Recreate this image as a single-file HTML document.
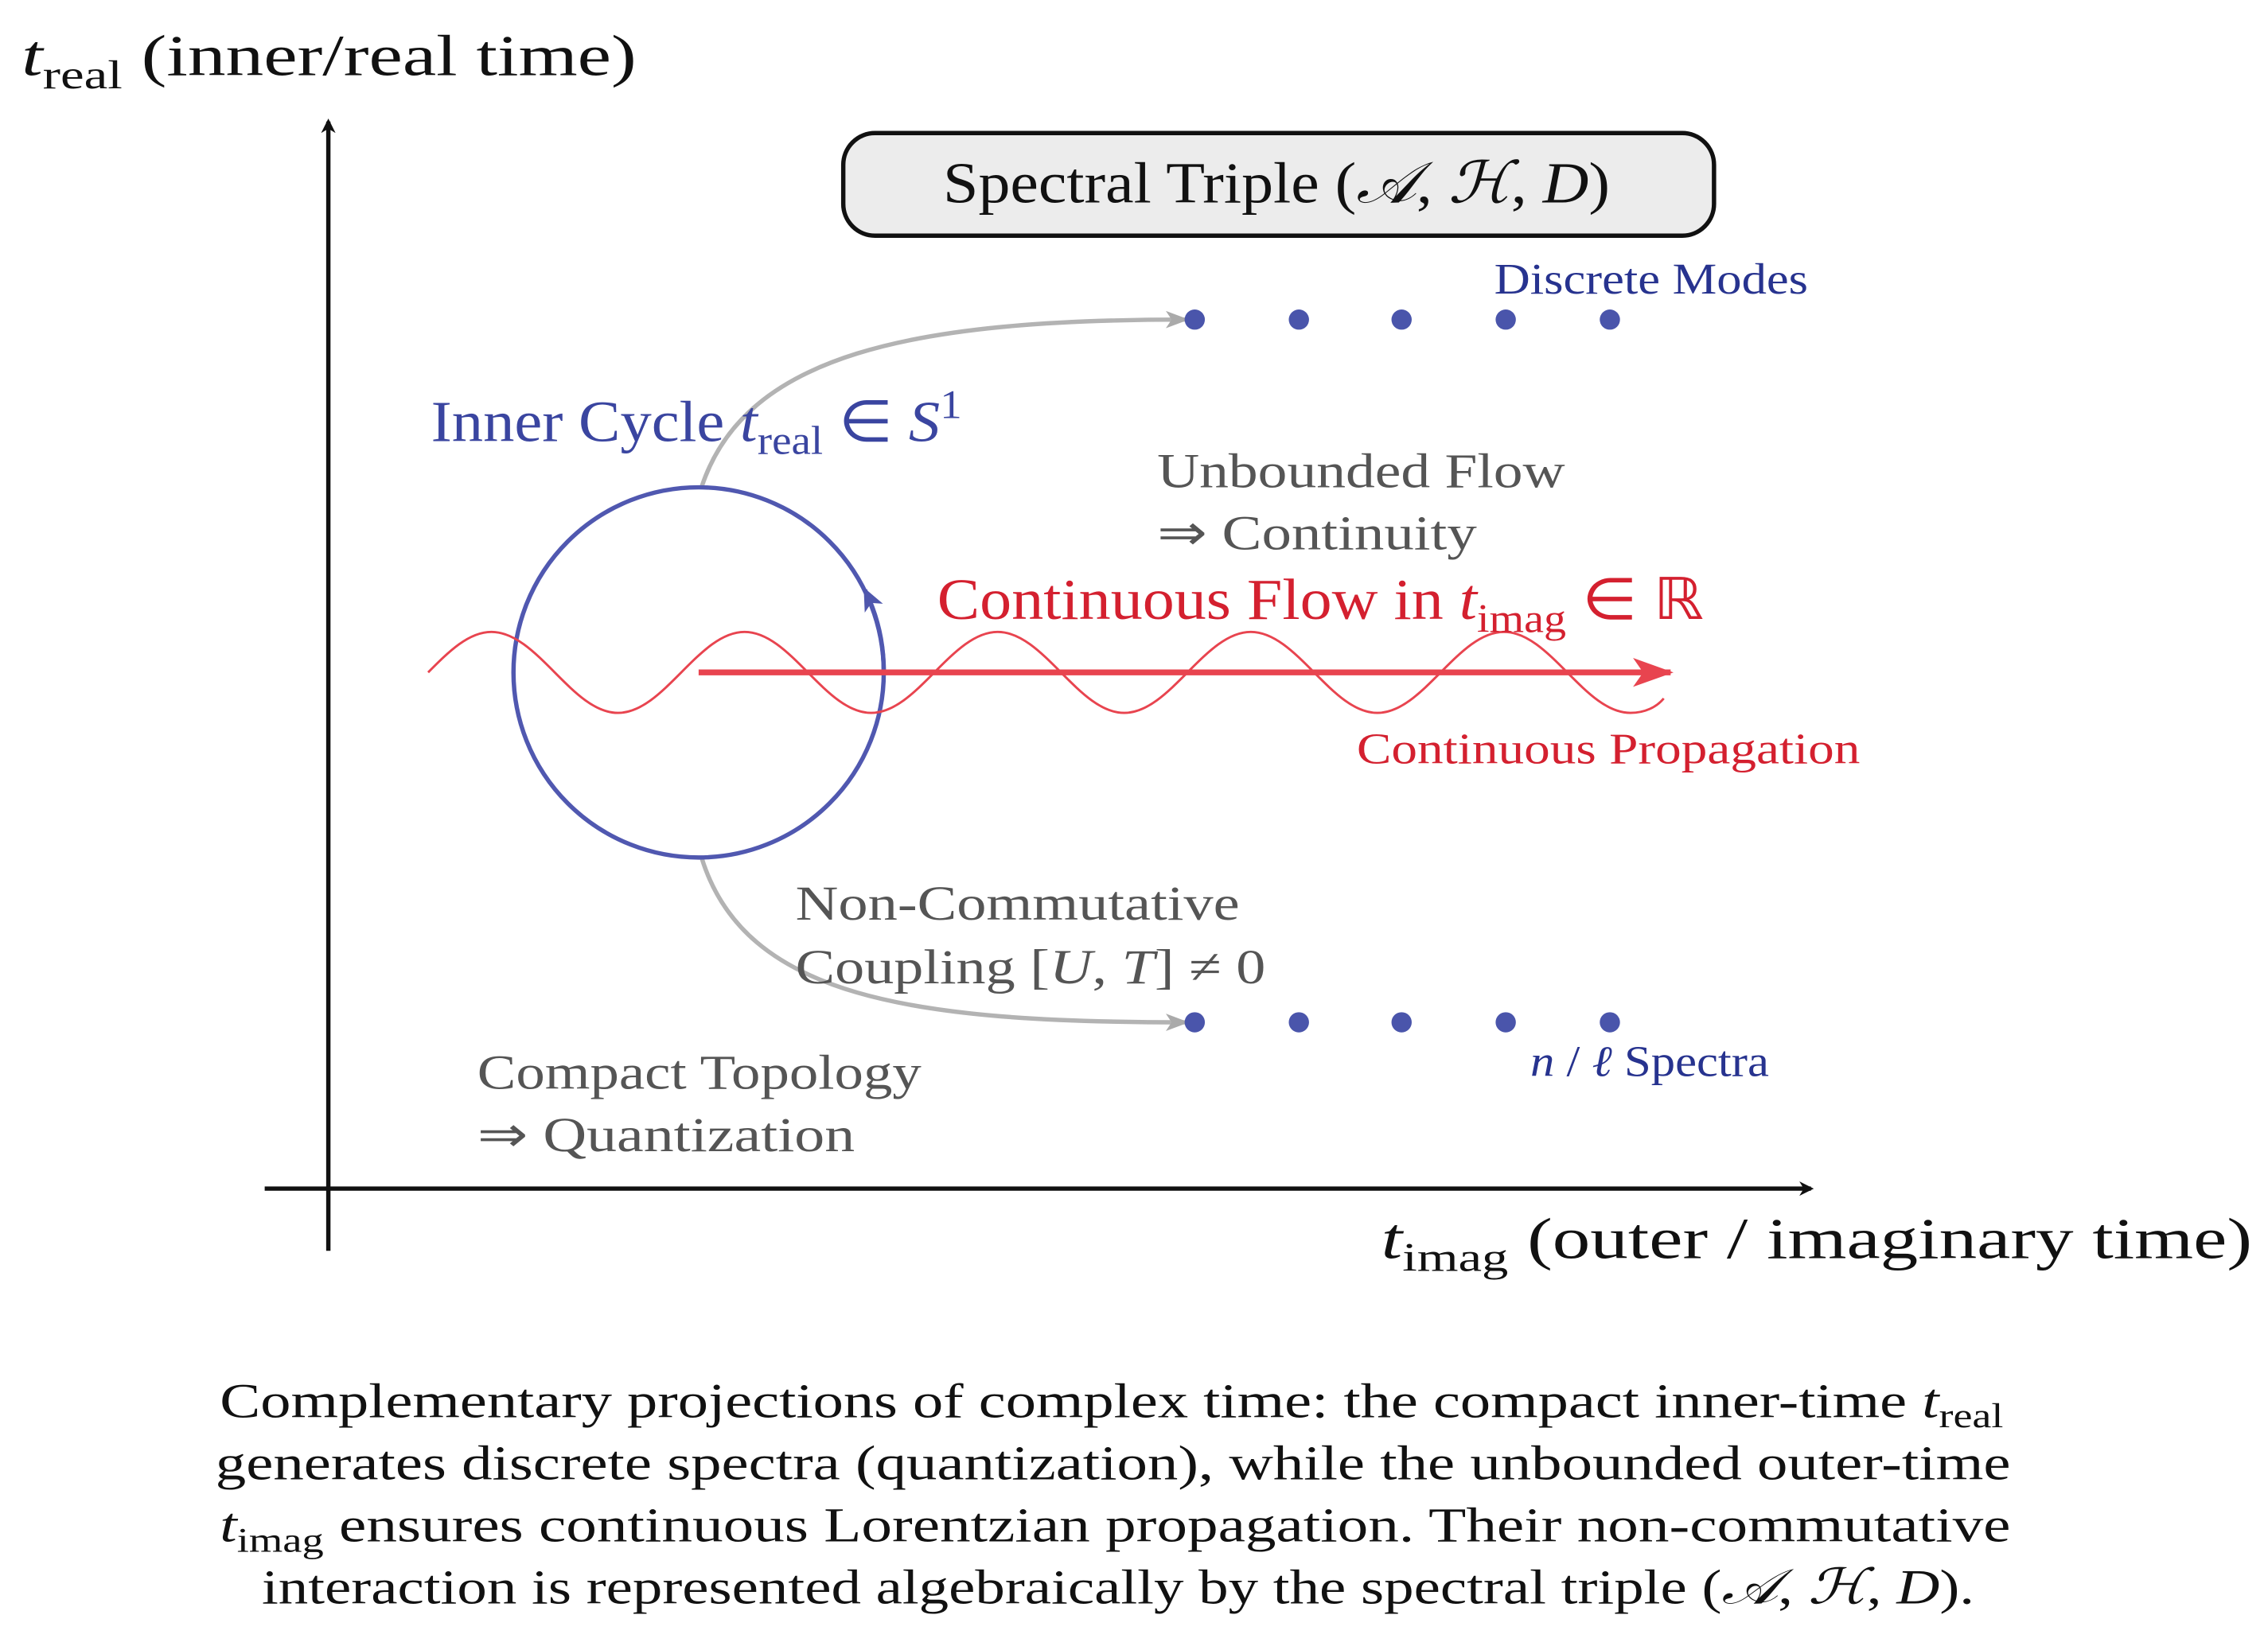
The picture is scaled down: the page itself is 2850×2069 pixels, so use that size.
<!DOCTYPE html>
<html><head><meta charset="utf-8"><style>
html,body{margin:0;padding:0;background:#fff;}
svg{display:block;}
text{font-family:"Liberation Serif",serif;}
</style></head><body>
<svg width="2850" height="2069" viewBox="0 0 1568 1138.3" xmlns="http://www.w3.org/2000/svg">
<defs>
<marker id="ak" markerWidth="10" markerHeight="10" refX="8" refY="5" orient="auto" markerUnits="userSpaceOnUse"><path d="M0,0 L10,5 L0,10 L3,5 Z" fill="#111"/></marker>
<marker id="ag" markerWidth="16" markerHeight="12" refX="14" refY="6" orient="auto" markerUnits="userSpaceOnUse"><path d="M0,0 L16,6 L0,12 L4,6 Z" fill="#aaa"/></marker>
<marker id="ar" markerWidth="28" markerHeight="20" refX="26" refY="10" orient="auto" markerUnits="userSpaceOnUse"><path d="M0,0 L28,10 L0,20 L7,10 Z" fill="#e8444f"/></marker>
<marker id="ab" markerWidth="16" markerHeight="14" refX="14" refY="7" orient="auto" markerUnits="userSpaceOnUse"><path d="M0,0 L16,7 L0,14 L4,7 Z" fill="#4f57ad"/></marker>
</defs>
<line x1="227" y1="865" x2="227" y2="84" stroke="#111" stroke-width="3" marker-end="url(#ak)"/>
<line x1="183" y1="822" x2="1252" y2="822" stroke="#111" stroke-width="3" marker-end="url(#ak)"/>
<text x="15" y="52" font-size="40" fill="#111" textLength="425" lengthAdjust="spacingAndGlyphs"><tspan font-style="italic">t</tspan><tspan font-size="28" dy="9">real</tspan><tspan dy="-9"> (inner/real time)</tspan></text>
<text x="955" y="870" font-size="40" fill="#111" textLength="602" lengthAdjust="spacingAndGlyphs"><tspan font-style="italic">t</tspan><tspan font-size="28" dy="9">imag</tspan><tspan dy="-9"> (outer / imaginary time)</tspan></text>
<rect x="583" y="92" width="602" height="71" rx="22" fill="#ececec" stroke="#111" stroke-width="3"/>
<text x="652" y="140" font-size="40" fill="#111" textLength="461" lengthAdjust="spacingAndGlyphs">Spectral Triple (<tspan font-style="italic">𝒜</tspan>, <tspan font-style="italic">ℋ</tspan>, <tspan font-style="italic">D</tspan>)</text>
<path d="M485,337 C515,245 630,221 820,221" fill="none" stroke="#b3b3b3" stroke-width="3" marker-end="url(#ag)"/>
<path d="M485,593 C515,690 630,707 820,707" fill="none" stroke="#b3b3b3" stroke-width="3" marker-end="url(#ag)"/>
<g fill="#4a55ab">
<circle cx="826" cy="221" r="7"/><circle cx="898" cy="221" r="7"/><circle cx="969" cy="221" r="7"/><circle cx="1041" cy="221" r="7"/><circle cx="1113" cy="221" r="7"/>
<circle cx="826" cy="707" r="7"/><circle cx="898" cy="707" r="7"/><circle cx="969" cy="707" r="7"/><circle cx="1041" cy="707" r="7"/><circle cx="1113" cy="707" r="7"/>
</g>
<text x="1033" y="203" font-size="30" fill="#27338f" textLength="217" lengthAdjust="spacingAndGlyphs">Discrete Modes</text>
<text x="1058" y="744" font-size="30" fill="#27338f" textLength="165" lengthAdjust="spacingAndGlyphs"><tspan font-style="italic">n</tspan> / <tspan font-style="italic">ℓ</tspan> Spectra</text>
<circle cx="483" cy="465" r="128" fill="none" stroke="#5058b0" stroke-width="3"/>
<path d="M611,465 A128,128 0 0 0 598,408" fill="none" stroke="#5058b0" stroke-width="3" marker-end="url(#ab)"/>
<path fill="none" stroke="#e8444f" stroke-width="1.6" d="M296,465
c14.27,-14.34 27.92,-28 43.75,-28 c15.83,0 29.48,13.66 43.75,28 c14.27,14.34 27.92,28 43.75,28 c15.83,0 29.48,-13.66 43.75,-28
c14.27,-14.34 27.92,-28 43.75,-28 c15.83,0 29.48,13.66 43.75,28 c14.27,14.34 27.92,28 43.75,28 c15.83,0 29.48,-13.66 43.75,-28
c14.27,-14.34 27.92,-28 43.75,-28 c15.83,0 29.48,13.66 43.75,28 c14.27,14.34 27.92,28 43.75,28 c15.83,0 29.48,-13.66 43.75,-28
c14.27,-14.34 27.92,-28 43.75,-28 c15.83,0 29.48,13.66 43.75,28 c14.27,14.34 27.92,28 43.75,28 c15.83,0 29.48,-13.66 43.75,-28
c14.27,-14.34 27.92,-28 43.75,-28 c15.83,0 29.48,13.66 43.75,28 c14.27,14.34 27.92,28 43.75,28 c10,0 18,-4 23,-10"/>
<line x1="483" y1="465" x2="1155" y2="465" stroke="#e8444f" stroke-width="4" marker-end="url(#ar)"/>
<text x="298" y="305" font-size="40" fill="#3a45a0" textLength="367" lengthAdjust="spacingAndGlyphs">Inner Cycle <tspan font-style="italic">t</tspan><tspan font-size="28" dy="9">real</tspan><tspan dy="-9"> ∈ </tspan><tspan font-style="italic">S</tspan><tspan font-size="28" dy="-16">1</tspan></text>
<text x="800" y="337" font-size="34" fill="#555" textLength="282" lengthAdjust="spacingAndGlyphs">Unbounded Flow</text>
<text x="800" y="380" font-size="34" fill="#555" textLength="221" lengthAdjust="spacingAndGlyphs">⇒ Continuity</text>
<text x="648" y="428" font-size="40" fill="#d4202f" textLength="530" lengthAdjust="spacingAndGlyphs">Continuous Flow in <tspan font-style="italic">t</tspan><tspan font-size="28" dy="9">imag</tspan><tspan dy="-9"> ∈ ℝ</tspan></text>
<text x="938" y="528" font-size="30" fill="#d4202f" textLength="348" lengthAdjust="spacingAndGlyphs">Continuous Propagation</text>
<text x="550" y="636" font-size="34" fill="#555" textLength="307" lengthAdjust="spacingAndGlyphs">Non-Commutative</text>
<text x="550" y="680" font-size="34" fill="#555" textLength="325" lengthAdjust="spacingAndGlyphs">Coupling [<tspan font-style="italic">U</tspan>, <tspan font-style="italic">T</tspan>] ≠ 0</text>
<text x="330" y="753" font-size="34" fill="#555" textLength="307" lengthAdjust="spacingAndGlyphs">Compact Topology</text>
<text x="330" y="796" font-size="34" fill="#555" textLength="261" lengthAdjust="spacingAndGlyphs">⇒ Quantization</text>
<g font-size="34" fill="#111">
<text x="152" y="980" textLength="1233" lengthAdjust="spacingAndGlyphs">Complementary projections of complex time: the compact inner-time <tspan font-style="italic">t</tspan><tspan font-size="24" dy="7">real</tspan></text>
<text x="149" y="1023" textLength="1241" lengthAdjust="spacingAndGlyphs">generates discrete spectra (quantization), while the unbounded outer-time</text>
<text x="152" y="1066" textLength="1238" lengthAdjust="spacingAndGlyphs"><tspan font-style="italic">t</tspan><tspan font-size="24" dy="7">imag</tspan><tspan dy="-7"> ensures continuous Lorentzian propagation. Their non-commutative</tspan></text>
<text x="181" y="1109" textLength="1184" lengthAdjust="spacingAndGlyphs">interaction is represented algebraically by the spectral triple (<tspan font-style="italic">𝒜</tspan>, <tspan font-style="italic">ℋ</tspan>, <tspan font-style="italic">D</tspan>).</text>
</g>
</svg>
</body></html>
